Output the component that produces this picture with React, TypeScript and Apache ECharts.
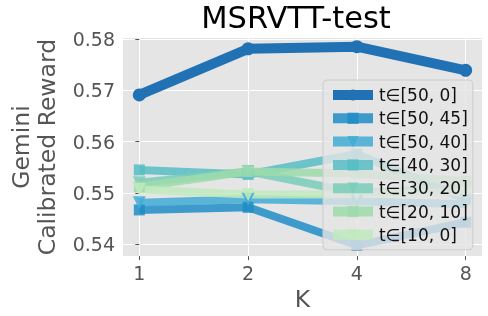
import React, { useEffect, useRef } from 'react';
import * as echarts from 'echarts';

const K = [1, 2, 4, 8];
const seriesNames = ['t∈[50, 0]', 't∈[50, 45]', 't∈[50, 40]', 't∈[40, 30]', 't∈[30, 20]', 't∈[20, 10]', 't∈[10, 0]'];
const s1 = [0.5691, 0.5781, 0.5785, 0.5739];
const s2 = [0.5467, 0.5472, 0.5398, 0.5443];
const s3 = [0.5481, 0.5488, 0.5484, 0.5478];
const s4 = [0.5545, 0.5536, 0.5576, 0.5488];
const s5 = [0.552, 0.5542, 0.55, 0.551];
const s6 = [0.5512, 0.5542, 0.5538, 0.5523];
const s7 = [0.5507, 0.5497, 0.5497, 0.5502];
const allValues = [s1, s2, s3, s4, s5, s6, s7];
const yTicks = [0.54, 0.55, 0.56, 0.57, 0.58];

const colors = ['#2171b5', '#208dc6', '#41abd6', '#57bdc4', '#7accb8', '#9ddcac', '#bfeabd'];
const symbols = ['circle', 'rect', 'triangle', 'rect', 'triangle', 'rect', 'triangle'];
const FONT = 'DejaVu Sans';

export default function App() {
  const ref = useRef<HTMLDivElement>(null);
  useEffect(() => {
    const chart = echarts.init(ref.current!, null, { renderer: 'svg' });
    const xTicks = K.map((k) => Math.log2(k));
    const series = allValues.map((vals, i) => ({
      name: seriesNames[i],
      type: 'line',
      data: vals.map((v, j) => [Math.log2(K[j]), v]),
      symbol: symbols[i],
      symbolSize: i === 0 ? 13 : symbols[i] === 'rect' ? 11 : 13,
      symbolRotate: symbols[i] === 'triangle' ? 180 : 0,
      lineStyle: { color: colors[i], width: i === 0 ? 10 : 8, opacity: i === 0 ? 1 : 0.85 },
      itemStyle: { color: colors[i], opacity: i === 0 ? 1 : 0.85 },
      emphasis: { disabled: true },
    }));
    chart.setOption({
      animation: false,
      textStyle: { fontFamily: FONT },
      graphic: [
        {
          type: 'text',
          x: 296,
          y: 2,
          style: { text: 'MSRVTT-test', font: `30.5px "${FONT}"`, fill: '#000', textAlign: 'center', textVerticalAlign: 'top' },
        },
      ],
      grid: { left: 110.7, right: 6, top: 38, bottom: 56.7, show: true, backgroundColor: '#e5e5e5', borderWidth: 0 },
      xAxis: {
        type: 'value',
        min: -0.15,
        max: 3.15,
        name: 'K',
        nameLocation: 'middle',
        nameGap: 27,
        nameTextStyle: { fontSize: 23.5, color: '#555', fontFamily: FONT },
        axisLine: { show: false },
        axisTick: { show: true, length: 4, lineStyle: { color: '#555' }, customValues: xTicks },
        axisLabel: {
          customValues: xTicks,
          fontSize: 19,
          color: '#555',
          margin: 7,
          fontFamily: FONT,
          formatter: (v: number) => String(Math.round(Math.pow(2, v))),
        },
        splitLine: { show: true, lineStyle: { color: '#ffffff', width: 1 } },
      },
      yAxis: {
        type: 'value',
        min: 0.5377,
        max: 0.5802,
        name: 'Gemini\nCalibrated Reward',
        nameLocation: 'middle',
        nameGap: 63,
        nameTextStyle: { fontSize: 23.5, color: '#555', lineHeight: 26, fontFamily: FONT },
        axisLine: { show: false },
        axisTick: { show: true, length: 4, lineStyle: { color: '#555' }, customValues: yTicks },
        axisLabel: {
          customValues: yTicks,
          fontSize: 19,
          color: '#555',
          margin: 8,
          fontFamily: FONT,
          formatter: (v: number) => v.toFixed(2),
        },
        splitLine: { show: true, lineStyle: { color: '#ffffff', width: 1 } },
      },
      legend: {
        orient: 'vertical',
        left: 323,
        top: 80,
        padding: [6, 5, 6, 5],
        itemWidth: 40,
        itemHeight: 14,
        itemGap: 5.3,
        backgroundColor: 'rgba(229,229,229,0.8)',
        borderColor: '#cccccc',
        borderWidth: 1,
        borderRadius: 4,
        lineStyle: { width: 10 },
        textStyle: { fontSize: 17, color: '#111', fontFamily: FONT, lineHeight: 18, padding: [0, 0, 0, 1] },
        data: seriesNames,
      },
      series,
    });
    return () => chart.dispose();
  }, []);
  return <div ref={ref} style={{ position: 'fixed', left: 0, top: 0, width: 488, height: 316 }} />;
}
